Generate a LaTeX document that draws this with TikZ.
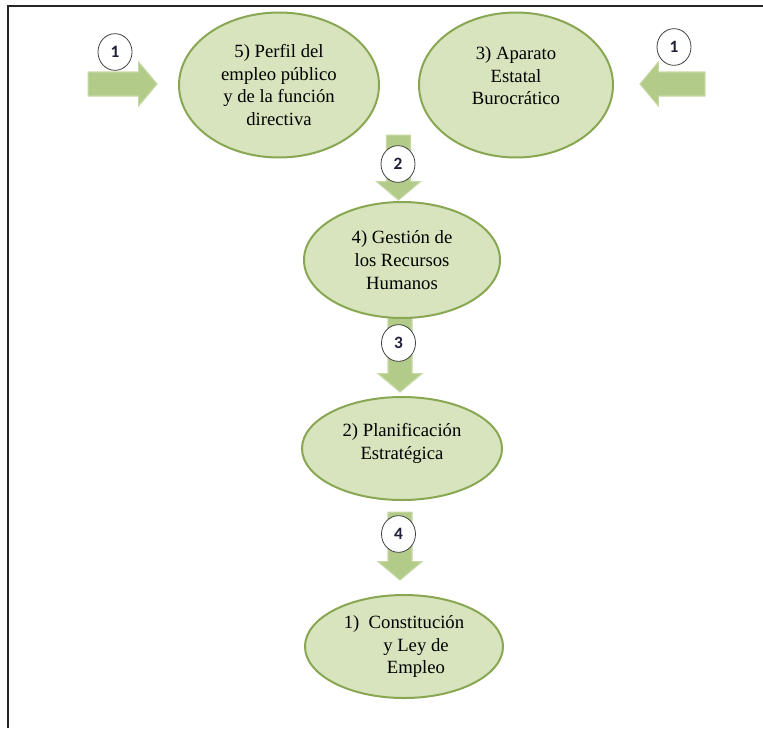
\documentclass[tikz,border=0pt]{standalone}
\usepackage{fontspec}
\setmainfont{Liberation Serif}
\newfontfamily\numfont{Carlito}
\usepackage{tikz}
\usetikzlibrary{shapes.geometric, shapes.arrows}
\definecolor{ellfill}{HTML}{D7E4BD}
\definecolor{elldraw}{HTML}{89A753}
\definecolor{arrfill}{HTML}{B3CB88}
\definecolor{arredge}{HTML}{C6D8A6}
\definecolor{numtext}{HTML}{1F1F3A}
\tikzstyle{etapa} = [ellipse, inner sep=0pt, align=center, fill=ellfill, draw=elldraw, line width=1.5pt, font=\fontsize{14}{17}\selectfont]
\tikzstyle{flecha} = [single arrow, single arrow head extend=7.5pt, single arrow tip angle=100, inner xsep=0pt, inner ysep=8.6pt, fill=arrfill, draw=arredge, line width=0.8pt]
\tikzstyle{numero} = [ellipse, minimum width=25.5pt, minimum height=27.5pt, inner sep=0pt, fill=white, draw=black!75, line width=0.6pt, font=\numfont\fontsize{13}{15}\selectfont\bfseries, text=numtext]

\begin{document}
\begin{tikzpicture}[x=0.75pt, y=-0.75pt]
\useasboundingbox (0,0) rectangle (763,728);

% Frame
\draw [line width=1.6pt, black!85] (8,728) -- (8,6) -- (763,6);

% Arrows
\node (flechaizq) [flecha, minimum height=51.75pt] at (117.5,84) {};
\node (flechader) [flecha, minimum height=48.75pt, rotate=180] at (677.5,84) {};
\node (flecha2) [flecha, minimum height=48.75pt, rotate=-90] at (398.5,162.5) {};
\node (flecha3) [flecha, minimum height=55.5pt, rotate=-90] at (400,350) {};
\node (flecha4) [flecha, minimum height=51pt, rotate=-90] at (400,541) {};

% Stages
\node (perfil) [etapa, minimum width=150pt, minimum height=108.75pt] at (279,85) {5) Perfil del\\empleo público\\y de la función\\directiva};
\node (aparato) [etapa, minimum width=145.5pt, minimum height=108.75pt] at (516,85) {3) Aparato\\Estatal\\Burocrático\\[-3pt]\mbox{}};
\node (gestion) [etapa, minimum width=147pt, minimum height=87pt] at (402,260) {4) Gestión de\\los Recursos\\Humanos};
\node (planificacion) [etapa, minimum width=150pt, minimum height=77.25pt] at (402,448.5) {2) Planificación\\Estratégica\\[-6pt]\mbox{}};
\node (constitucion) [etapa, minimum width=148.5pt, minimum height=77.25pt] at (404,646.5) {1)\ \ Constitución\\\hspace*{18pt}y Ley de\\\hspace*{18pt}Empleo};

% Numbers
\node (num1a) [numero] at (115,52) {1};
\node (num1b) [numero] at (674,47) {1};
\node (num2) [numero] at (398,164) {2};
\node (num3) [numero] at (398.5,343) {3};
\node (num4) [numero] at (398.5,534) {4};

\end{tikzpicture}
\end{document}
